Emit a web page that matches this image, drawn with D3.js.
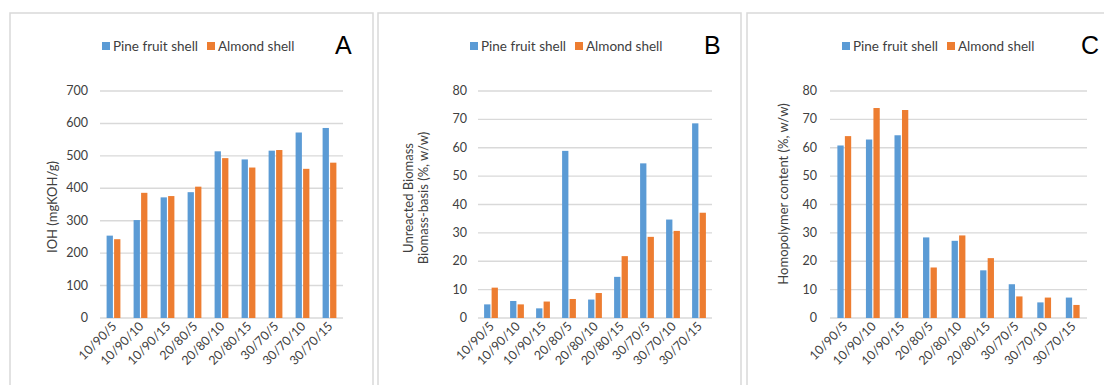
<!DOCTYPE html>
<html>
<head>
<meta charset="utf-8">
<script src="https://cdn.jsdelivr.net/npm/d3@7"></script>
<style>
  body { margin: 0; background: #fff; }
  svg { display: block; font-family: Lato, "Open Sans", sans-serif; }
</style>
</head>
<body>
<svg width="1104" height="385"></svg>
<script>
const categories = ["10/90/5","10/90/10","10/90/15","20/80/5","20/80/10","20/80/15","30/70/5","30/70/10","30/70/15"]
const seriesNames = ["Pine fruit shell","Almond shell"]

// panel A - IOH
const iohPine = [254,302,372,388,514,489,516,572,586]
const iohAlmond = [243,386,376,405,493,464,518,460,479]
const iohTicks = [0,100,200,300,400,500,600,700]

// panel B - unreacted biomass
const unreactedPine = [4.8,6.0,3.4,58.9,6.5,14.5,54.5,34.7,68.6]
const unreactedAlmond = [10.7,4.8,5.8,6.7,8.8,21.8,28.6,30.7,37.1]
const pctTicks = [0,10,20,30,40,50,60,70,80]

// panel C - homopolymer
const homoPine = [60.8,62.9,64.4,28.4,27.2,16.8,11.9,5.5,7.2]
const homoAlmond = [64.1,74.0,73.3,17.8,29.1,21.1,7.6,7.2,4.6]

const colors = ["#5B9BD5","#ED7D31"]
const svg = d3.select('svg')

const plotTop = 91, plotBottom = 318

function panel({frameX, frameW, x0, x1, letter, letterX, legendX, tickX, values, ticks, titleLines, titleX, titleY}){
  const g = svg.append('g')

  g.append('rect')
    .attr('x',frameX).attr('y',13)
    .attr('width',frameW).attr('height',400)
    .attr('fill','none').attr('stroke','#d9d9d9').attr('stroke-width',1.5)

  const x = d3.scaleBand().domain(d3.range(categories.length)).range([x0,x1])
  const y = d3.scaleLinear().domain([0,d3.max(ticks)]).range([plotBottom,plotTop])

  // gridlines
  g.append('g').selectAll('line').data(ticks).join('line')
    .attr('x1',x0).attr('x2',x1)
    .attr('y1',d=>y(d)).attr('y2',d=>y(d))
    .attr('stroke','#d9d9d9').attr('stroke-width',1.4)

  // y tick labels
  g.append('g').selectAll('text').data(ticks).join('text')
    .attr('x',tickX).attr('y',d=>y(d)+4)
    .attr('text-anchor','end')
    .attr('font-size','12.5px').attr('fill','#404040')
    .text(d=>d)

  const bw = 6.3, gap = 1.2
  values.forEach((vals,s)=>{
    g.append('g').attr('fill',colors[s]).selectAll('rect')
      .data(vals).join('rect')
      .attr('x',(d,i)=>x(i)+x.bandwidth()/2 + (s===0 ? -bw-gap/2 : gap/2))
      .attr('y',d=>y(d))
      .attr('width',bw)
      .attr('height',d=>y(0)-y(d))
  })

  // x labels rotated
  g.append('g').selectAll('text').data(categories).join('text')
    .attr('transform',(d,i)=>`translate(${x(i)+x.bandwidth()/2+4},${plotBottom+9}) rotate(-45)`)
    .attr('text-anchor','end')
    .attr('font-size','12.5px').attr('fill','#404040')
    .text(d=>d)

  // axis title
  const t = g.append('text')
    .attr('transform',`translate(${titleX},${titleY}) rotate(-90)`)
    .attr('text-anchor','middle')
    .attr('font-size','13px').attr('fill','#404040')
  titleLines.forEach((line,k)=>{
    t.append('tspan').attr('x',0).attr('dy',k===0 ? 0 : 15).text(line)
  })

  // legend
  const lg = g.append('g')
  seriesNames.forEach((name,s)=>{
    const lx = legendX[s]
    lg.append('rect').attr('x',lx).attr('y',42).attr('width',8).attr('height',8).attr('fill',colors[s])
    lg.append('text').attr('x',lx+11).attr('y',51)
      .attr('font-size','13.5px').attr('fill','#404040').text(name)
  })

  g.append('text')
    .attr('x',letterX).attr('y',54)
    .attr('font-size','25px').attr('fill','#000')
    .attr('font-family','Liberation Sans, Arial, sans-serif')
    .text(letter)
}

panel({frameX:10, frameW:363, x0:100, x1:343, letter:'A', letterX:335, legendX:[102,207], tickX:88,
  values:[iohPine,iohAlmond], ticks:iohTicks, titleLines:['IOH (mgKOH/g)'], titleX:57, titleY:207})

panel({frameX:378, frameW:363, x0:478, x1:712, letter:'B', letterX:704, legendX:[470,575], tickX:467,
  values:[unreactedPine,unreactedAlmond], ticks:pctTicks, titleLines:['Unreacted Biomass','Biomass-basis (%, w/w)'], titleX:413, titleY:198})

panel({frameX:747, frameW:363, x0:830, x1:1087, letter:'C', letterX:1081, legendX:[842,947], tickX:817,
  values:[homoPine,homoAlmond], ticks:pctTicks, titleLines:['Homopolymer content (%, w/w)'], titleX:788, titleY:194})
</script>
</body>
</html>
